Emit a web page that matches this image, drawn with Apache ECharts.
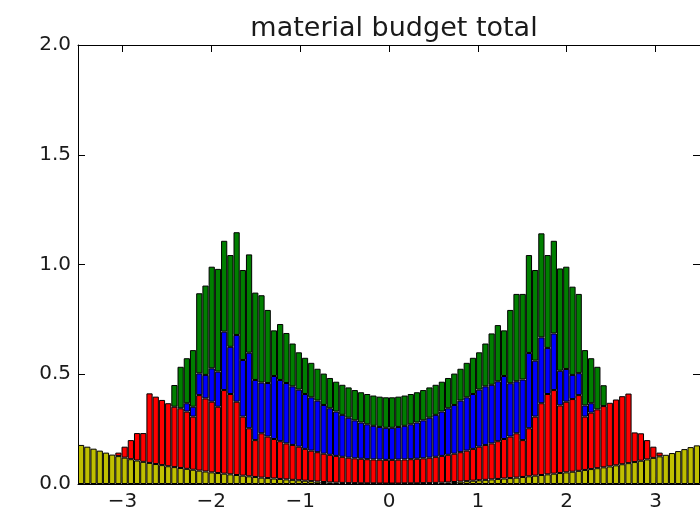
<!DOCTYPE html>
<html>
<head>
<meta charset="utf-8">
<script src="https://cdn.jsdelivr.net/npm/echarts@6/dist/echarts.min.js"></script>
<style>
html,body{margin:0;padding:0;background:#fff;}
#chart{width:700px;height:517px;}
</style>
</head>
<body>
<div id="chart"></div>
<script>
// Histogram binning: 100 bins over [-3.5, 3.5]
const binMin = -3.5;
const binMax = 3.5;
const binCount = 100;
const xTicks = [-3, -2, -1, 0, 1, 2, 3];
const yTicks = [0, 0.5, 1, 1.5, 2];
const titleText = 'material budget total';

// Stacked contributions per bin (bottom to top)
const yellowVals = [
0.178,0.170,0.161,0.152,0.143,0.134,0.127,0.120,0.113,0.107,
0.101,0.096,0.091,0.086,0.081,0.077,0.073,0.069,0.065,0.061,
0.057,0.053,0.050,0.047,0.044,0.041,0.038,0.035,0.032,0.029,
0.027,0.025,0.023,0.021,0.019,0.017,0.015,0.013,0.011,0.009,
0.007,0.006,0.005,0.004,0.004,0.003,0.003,0.003,0.002,0.002,
0.002,0.002,0.003,0.003,0.003,0.004,0.004,0.005,0.006,0.007,
0.009,0.011,0.013,0.015,0.017,0.019,0.021,0.023,0.025,0.027,
0.029,0.032,0.035,0.038,0.041,0.044,0.047,0.050,0.053,0.056,
0.060,0.064,0.068,0.072,0.076,0.080,0.085,0.090,0.095,0.100,
0.106,0.112,0.119,0.126,0.133,0.141,0.150,0.159,0.168,0.176];

const redVals = [
0,0,0,0,0,0,0.016,0.050,0.087,0.125,
0.131,0.317,0.307,0.297,0.287,0.275,0.272,0.261,0.242,0.344,
0.333,0.322,0.302,0.381,0.366,0.334,0.269,0.219,0.168,0.202,
0.189,0.180,0.172,0.164,0.159,0.153,0.145,0.139,0.134,0.129,
0.126,0.122,0.119,0.116,0.113,0.112,0.110,0.109,0.109,0.108,
0.108,0.109,0.109,0.110,0.112,0.113,0.116,0.119,0.122,0.126,
0.129,0.134,0.139,0.145,0.153,0.159,0.164,0.172,0.180,0.189,
0.202,0.168,0.219,0.269,0.327,0.366,0.381,0.308,0.322,0.331,
0.345,0.243,0.257,0.268,0.279,0.290,0.300,0.310,0.317,0.135,
0.125,0.088,0.051,0.017,0,0,0,0,0,0];

const blueVals = [
0,0,0,0,0,0,0,0,0,0,
0,0,0,0,0,0,0,0.038,0.045,0.099,
0.107,0.152,0.160,0.266,0.215,0.304,0.258,0.344,0.274,0.231,
0.244,0.287,0.279,0.275,0.267,0.260,0.250,0.243,0.235,0.222,
0.212,0.202,0.191,0.182,0.173,0.165,0.159,0.153,0.149,0.146,
0.146,0.149,0.153,0.159,0.165,0.173,0.182,0.191,0.202,0.212,
0.222,0.235,0.243,0.250,0.260,0.267,0.267,0.273,0.287,0.243,
0.237,0.276,0.343,0.255,0.300,0.210,0.258,0.158,0.149,0.110,
0.100,0.051,0.043,0,0,0,0,0,0,0,
0,0,0,0,0,0,0,0,0,0];

const greenVals = [
0,0,0,0,0,0,0,0,0,0,
0,0,0,0,0,0.099,0.189,0.205,0.258,0.365,
0.407,0.463,0.468,0.414,0.418,0.468,0.410,0.448,0.398,0.398,
0.333,0.208,0.255,0.228,0.195,0.170,0.165,0.157,0.145,0.143,
0.138,0.136,0.137,0.138,0.138,0.138,0.138,0.138,0.138,0.139,
0.139,0.138,0.138,0.138,0.138,0.138,0.138,0.137,0.136,0.138,
0.143,0.145,0.157,0.165,0.170,0.195,0.234,0.256,0.208,0.334,
0.398,0.390,0.446,0.413,0.474,0.423,0.422,0.466,0.466,0.402,
0.361,0.252,0.205,0.194,0.095,0,0,0,0,0,
0,0,0,0,0,0,0,0,0,0];

const binWidth = (binMax - binMin) / binCount;
const binLabels = [];
for (let i = 0; i < binCount; i++) binLabels.push((binMin + binWidth * (i + 0.5)).toFixed(3));

const FONT = 'DejaVu Sans';
const fmtX = v => (v < 0 ? '\u2212' + Math.abs(v) : String(v));

function barSeries(name, vals, color) {
  return {
    name: name,
    type: 'bar',
    stack: 'total',
    xAxisIndex: 0,
    yAxisIndex: 0,
    barCategoryGap: '0%',
    data: vals.map(v => (v === 0 ? null : v)),
    itemStyle: { color: color, borderColor: '#000', borderWidth: 1 },
    emphasis: { disabled: true },
    silent: true
  };
}

const chart = echarts.init(document.getElementById('chart'), null, { renderer: 'canvas' });
chart.setOption({
  animation: false,
  backgroundColor: '#fff',
  title: {
    text: titleText,
    left: 389,
    top: 10,
    textAlign: 'center',
    textStyle: { fontFamily: FONT, fontSize: 27, fontWeight: 'normal', color: '#1a1a1a' }
  },
  grid: { left: 78, top: 45, width: 622, height: 439, containLabel: false },
  xAxis: [
    { type: 'category', data: binLabels, boundaryGap: true, show: false, position: 'bottom' },
    {
      type: 'value', min: binMin, max: binMax, position: 'bottom',
      axisLine: { show: true, onZero: false, lineStyle: { color: '#000', width: 1 } },
      axisTick: { show: true, inside: true, length: 7, customValues: xTicks, lineStyle: { color: '#000' } },
      axisLabel: { show: true, customValues: xTicks, formatter: fmtX, margin: 8,
        fontFamily: FONT, fontSize: 20, color: '#1a1a1a' },
      splitLine: { show: false }
    },
    {
      type: 'value', min: binMin, max: binMax, position: 'top',
      axisLine: { show: true, onZero: false, lineStyle: { color: '#000', width: 1 } },
      axisTick: { show: true, inside: true, length: 7, customValues: xTicks, lineStyle: { color: '#000' } },
      axisLabel: { show: false },
      splitLine: { show: false }
    }
  ],
  yAxis: [
    {
      type: 'value', min: 0, max: 2, interval: 0.5, position: 'left',
      axisLine: { show: true, onZero: false, lineStyle: { color: '#000', width: 1 } },
      axisTick: { show: true, inside: true, length: 7, customValues: yTicks, lineStyle: { color: '#000' } },
      axisLabel: { show: true, customValues: yTicks, formatter: v => v.toFixed(1), margin: 7,
        fontFamily: FONT, fontSize: 20, color: '#1a1a1a' },
      splitLine: { show: false }
    },
    {
      type: 'value', min: 0, max: 2, interval: 0.5, position: 'right',
      axisLine: { show: true, onZero: false, lineStyle: { color: '#000', width: 1 } },
      axisTick: { show: true, inside: true, length: 7, customValues: yTicks, lineStyle: { color: '#000' } },
      axisLabel: { show: false },
      splitLine: { show: false }
    }
  ],
  series: [
    barSeries('yellow', yellowVals, '#bfbf00'),
    barSeries('red', redVals, '#ff0000'),
    barSeries('blue', blueVals, '#0000ff'),
    barSeries('green', greenVals, '#007f00')
  ]
});
</script>
</body>
</html>
